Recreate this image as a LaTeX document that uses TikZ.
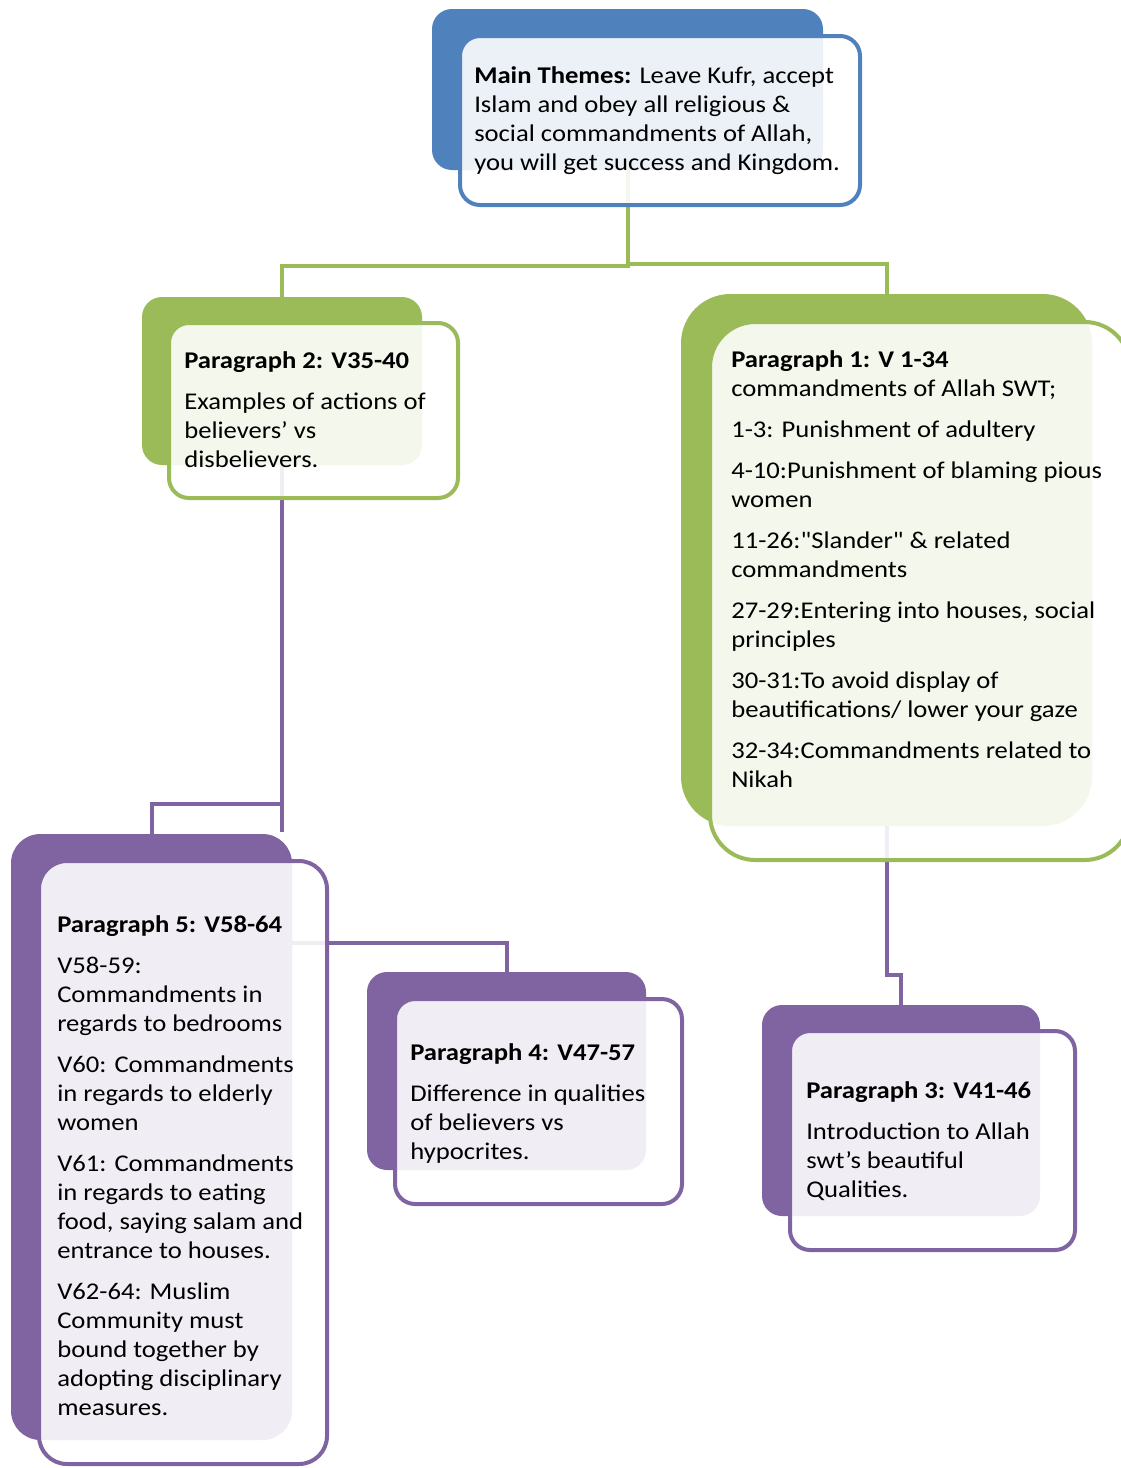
\documentclass[tikz,border=0pt]{standalone}
\usepackage{fontspec}
\setmainfont{Carlito}[Ligatures=TeXOff, FakeStretch=1.11]
\usetikzlibrary{fit}
\pgfdeclarelayer{background}
\pgfsetlayers{background,main}
\definecolor{accblue}{HTML}{4F81BD}
\definecolor{accgreen}{HTML}{9BBB59}
\definecolor{accpurple}{HTML}{8064A2}
\tikzset{
	backbox/.style={draw=none, inner sep=0pt, rounded corners=15pt},
	frontbox/.style={line width=3pt, fill=white, fill opacity=0.89, inner sep=0pt, rounded corners=15pt},
	boxtext/.style={anchor=north west, inner sep=0pt, align=left, font=\fontsize{18}{21.75}\selectfont},
	link/.style={line width=3pt},
}

\begin{document}
\begin{tikzpicture}[x=0.75pt, y=-0.75pt]
		%%%%% START %%%%%
		\useasboundingbox (0, 0) rectangle (1121, 1468);
		
		\node[backbox, fill=accblue, fit={(432, 9) (823, 170)}] (mainback) {};
		\node[backbox, fill=accgreen, fit={(142, 297) (422, 465)}] (p2back) {};
		\node[backbox, fill=accgreen, rounded corners=37pt, fit={(681, 294) (1092, 826)}] (p1back) {};
		\node[backbox, fill=accpurple, rounded corners=22pt, fit={(11, 834) (292, 1440)}] (p5back) {};
		\node[backbox, fill=accpurple, fit={(367, 972) (646, 1170)}] (p4back) {};
		\node[backbox, fill=accpurple, fit={(762, 1005) (1040, 1216)}] (p3back) {};
		
		\node[frontbox, draw=accblue, fit={(460, 36) (860, 205)}] (mainfront) {};
		\node[frontbox, draw=accgreen, fit={(169, 323) (458, 498)}] (p2front) {};
		\node[frontbox, draw=accgreen, rounded corners=34pt, fit={(710, 322) (1130, 860)}] (p1front) {};
		\node[frontbox, draw=accpurple, rounded corners=21pt, fit={(39, 861) (327, 1464)}] (p5front) {};
		\node[frontbox, draw=accpurple, fit={(395, 999) (682, 1204)}] (p4front) {};
		\node[frontbox, draw=accpurple, fit={(790, 1031) (1075, 1250)}] (p3front) {};
		
		% connectors behind the boxes
		\begin{pgfonlayer}{background}
		\draw[link, accgreen] (mainback.south) -- ++(0, 96) -| (p2back.north);
		\draw[link, accgreen] (mainback.south) -- ++(0, 94) -| (p1back.north);
		\draw[link, accpurple] (p2back.south) -- ++(0, 367);
		\draw[link, accpurple] (p2back.south) ++(0, 339) -| (p5back.north);
		\draw[link, accpurple] (p5back.north east) ++(0, 109) -| (p4back.north);
		\draw[link, accpurple] (p1back.south) -- ++(0, 149) -| (p3back.north);
		\end{pgfonlayer}
		
		\node[boxtext] (maintext) at (474, 66) {\textbf{Main Themes:} Leave Kufr, accept\\Islam and obey all religious \&\\social commandments of Allah,\\you will get success and Kingdom.};
		
		\node[boxtext] (p2text) at (184, 351) {\textbf{Paragraph 2: V35-40}\\[9pt]Examples of actions of\\believers’ vs\\disbelievers.};
		
		\node[boxtext] (p1text) at (731, 350) {\textbf{Paragraph 1: V 1-34}\\commandments of Allah SWT;\\[9pt]1-3: Punishment of adultery\\[9pt]4-10:Punishment of blaming pious\\women\\[9pt]11-26:"Slander" \& related\\commandments\\[9pt]27-29:Entering into houses, social\\principles\\[9pt]30-31:To avoid display of\\beautifications/ lower your gaze\\[9pt]32-34:Commandments related to\\Nikah};
		
		\node[boxtext] (p5text) at (57, 915) {\textbf{Paragraph 5: V58-64}\\[9pt]V58-59:\\Commandments in\\regards to bedrooms\\[9pt]V60: Commandments\\in regards to elderly\\women\\[9pt]V61: Commandments\\in regards to eating\\food, saying salam and\\entrance to houses.\\[9pt]V62-64: Muslim\\Community must\\bound together by\\adopting disciplinary\\measures.};
		
		\node[boxtext] (p4text) at (410, 1043) {\textbf{Paragraph 4: V47-57}\\[9pt]Difference in qualities\\of believers vs\\hypocrites.};
		
		\node[boxtext] (p3text) at (806, 1081) {\textbf{Paragraph 3: V41-46}\\[9pt]Introduction to Allah\\swt’s beautiful\\Qualities.};
		
		%%%%% END %%%%%
\end{tikzpicture}
\end{document}
